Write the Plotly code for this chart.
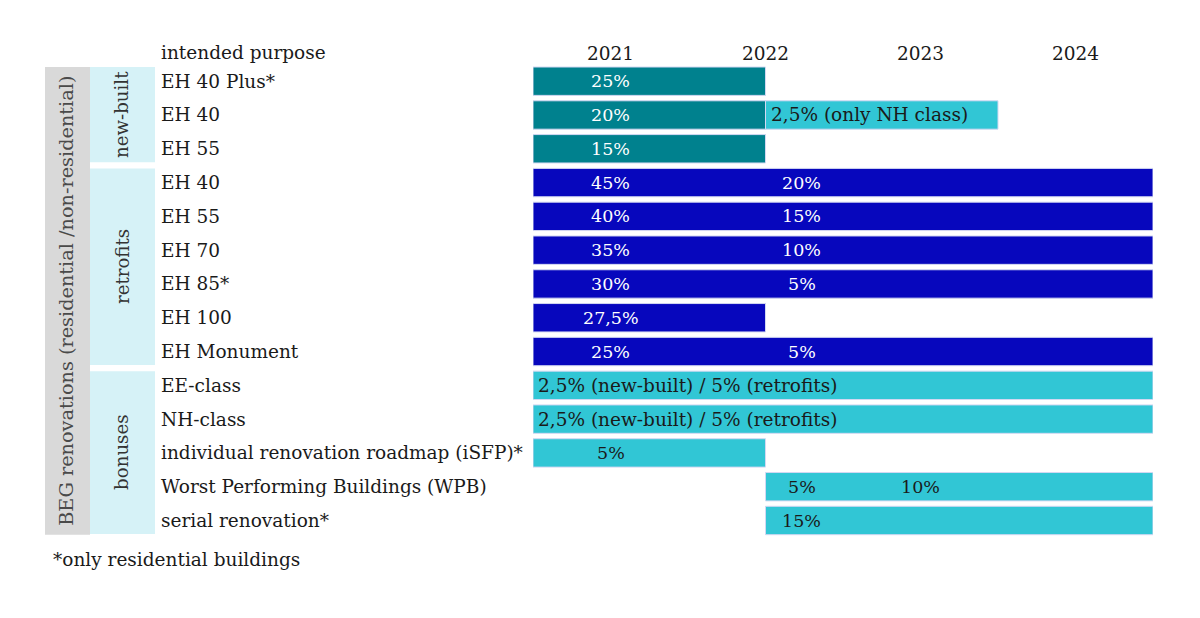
import plotly.graph_objects as go

# rows of the table, top to bottom
row_names = ["EH 40 Plus*", "EH 40", "EH 55",
             "EH 40", "EH 55", "EH 70", "EH 85*", "EH 100", "EH Monument",
             "EE-class", "NH-class", "individual renovation roadmap (iSFP)*",
             "Worst Performing Buildings (WPB)", "serial renovation*"]

groups = ["new-built", "retrofits", "bonuses"]
group_first = [0, 3, 9]
group_last = [2, 8, 13]

years = [2021, 2022, 2023, 2024]

# funding periods (bars)
bar_row = [0, 1, 1, 2, 3, 4, 5, 6, 7, 8, 9, 10, 11, 12, 13]
bar_from = [2020.5, 2020.5, 2022, 2020.5, 2020.5, 2020.5, 2020.5, 2020.5, 2020.5, 2020.5,
            2020.5, 2020.5, 2020.5, 2022, 2022]
bar_to = [2022, 2022, 2023.5, 2022, 2024.5, 2024.5, 2024.5, 2024.5, 2022, 2024.5,
          2024.5, 2024.5, 2022, 2024.5, 2024.5]
bar_kind = ["new", "new", "bonus", "new", "retro", "retro", "retro", "retro", "retro", "retro",
            "bonus", "bonus", "bonus", "bonus", "bonus"]

# subsidy rates written in the bars
rate_row = [0, 1, 1, 2, 3, 3, 4, 4, 5, 5, 6, 6, 7, 8, 8, 9, 10, 11, 12, 12, 13]
rate_year = [2021, 2021, 2022, 2021, 2021, 2022, 2021, 2022, 2021, 2022, 2021, 2022, 2021,
             2021, 2022, 2020.5, 2020.5, 2021, 2022, 2023, 2022]
rate_text = ["25%", "20%", "2,5% (only NH class)", "15%", "45%", "20%", "40%", "15%",
             "35%", "10%", "30%", "5%", "27,5%", "25%", "5%",
             "2,5% (new-built) / 5% (retrofits)", "2,5% (new-built) / 5% (retrofits)",
             "5%", "5%", "10%", "15%"]

colors = {"new": "#00818E", "retro": "#0707BD", "bonus": "#31C6D5"}
FONT = "DejaVu Serif"
W, H = 1200, 618


# page pixels -> paper coords (the page body has an 8px margin)
def px(x):
    return (x - 8) / W


def py(y):
    return 1 - (y - 8) / H


fig = go.Figure()

for kind in ["new", "retro", "bonus"]:
    idx = [i for i in range(len(bar_row)) if bar_kind[i] == kind]
    fig.add_trace(go.Bar(
        orientation="h",
        y=[bar_row[i] for i in idx],
        base=[bar_from[i] for i in idx],
        x=[bar_to[i] - bar_from[i] for i in idx],
        width=0.84,
        marker=dict(color=colors[kind], line=dict(color="#D3D8F2", width=1)),
        showlegend=False,
        hoverinfo="skip",
    ))

# group boxes on the left
shapes = [dict(type="rect", xref="paper", yref="y", x0=px(45), x1=px(90),
               y0=-0.42, y1=len(row_names) - 1 + 0.42,
               fillcolor="#D9D9D9", line_width=0, layer="below")]
ann = []
for g, a, b in zip(groups, group_first, group_last):
    shapes.append(dict(type="rect", xref="paper", yref="y", x0=px(90), x1=px(155),
                       y0=a - 0.42, y1=b + 0.4, fillcolor="#D6F2F7", line_width=0, layer="below"))
    ann.append(dict(text=g, xref="paper", yref="y", x=px(122), y=(a + b) / 2,
                    xanchor="center", yanchor="middle",
                    textangle=-90, showarrow=False, font=dict(size=18.2, color="#333333")))

ann.append(dict(text="BEG renovations (residential /non-residential)", xref="paper", yref="y",
                x=px(67), y=(len(row_names) - 1) / 2, xanchor="center", yanchor="middle",
                textangle=-90, showarrow=False, font=dict(size=19.3, color="#4a4a4a")))

for i, name in enumerate(row_names):
    ann.append(dict(text=name, xref="paper", yref="y", x=px(159), y=i, xanchor="left",
                    yanchor="middle", showarrow=False, font=dict(size=18.5, color="#1a1a1a")))

ann.append(dict(text="intended purpose", xref="paper", yref="paper", x=px(159), y=py(53),
                xanchor="left", yanchor="middle", showarrow=False,
                font=dict(size=18.5, color="#1a1a1a")))
ann.append(dict(text="*only residential buildings", xref="paper", yref="paper", x=px(51),
                y=py(559), xanchor="left", yanchor="middle", showarrow=False,
                font=dict(size=18.5, color="#1a1a1a")))

for r, yr, t in zip(rate_row, rate_year, rate_text):
    kind = "bonus"
    for i in range(len(bar_row)):
        if bar_row[i] == r and bar_from[i] <= yr < bar_to[i]:
            kind = bar_kind[i]
    col = "#1a1a1a" if kind == "bonus" else "white"
    if len(t) > 6:
        a = dict(x=yr, xanchor="left", xshift=3, font=dict(size=18.5, color=col))
    elif yr == 2022:
        a = dict(x=yr, xanchor="center", xshift=36, font=dict(size=17.5, color=col))
    else:
        a = dict(x=yr, xanchor="center", font=dict(size=17.5, color=col))
    a.update(text=t, xref="x", yref="y", y=r, yanchor="middle", showarrow=False)
    ann.append(a)

fig.update_layout(
    width=W, height=H,
    margin=dict(l=0, r=0, t=0, b=0),
    paper_bgcolor="white", plot_bgcolor="white",
    font=dict(family=FONT, size=17, color="#1a1a1a"),
    barmode="overlay",
    xaxis=dict(domain=[px(533), px(1153)], range=[2020.5, 2024.5], side="top",
               tickvals=years, ticktext=[str(y) for y in years], ticks="",
               showgrid=False, zeroline=False, showline=False, fixedrange=True,
               tickfont=dict(size=18.5)),
    yaxis=dict(domain=[py(537.4), py(64.3)], range=[13.5, -0.5],
               showticklabels=False, showgrid=False, zeroline=False, showline=False),
    shapes=shapes,
    annotations=ann,
)

fig.write_html("out.html")
